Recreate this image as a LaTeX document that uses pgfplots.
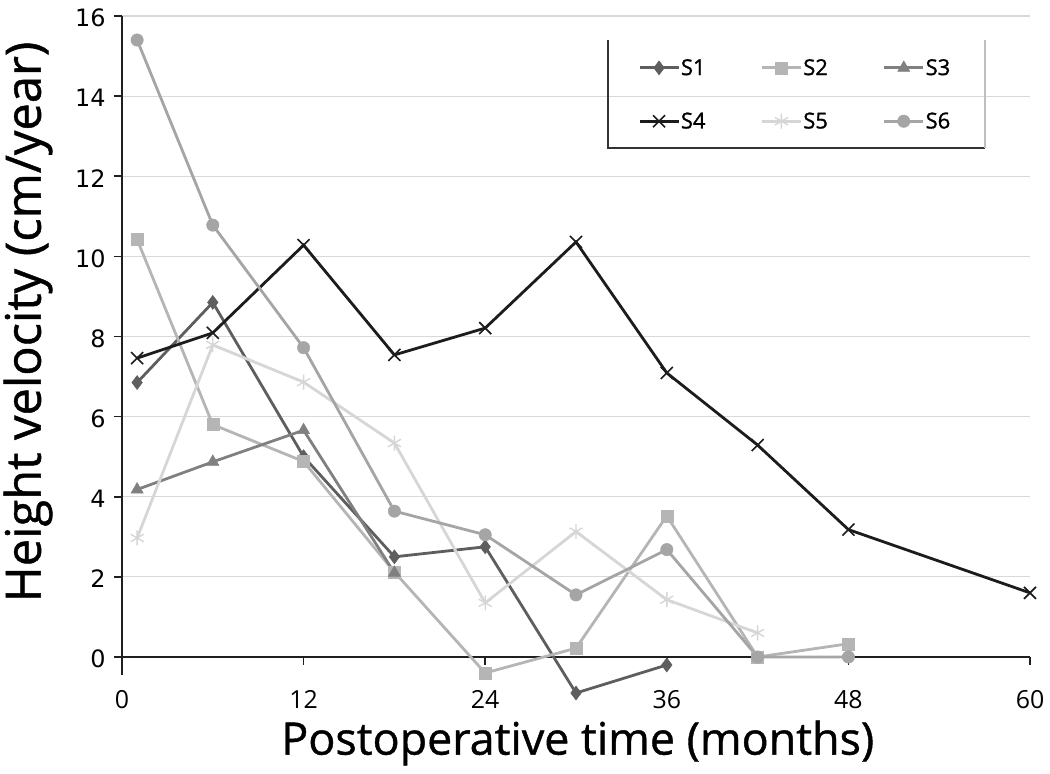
\documentclass[border=0pt]{standalone}
\usepackage{pgfplots}
\pgfplotsset{compat=1.18}
\usepackage{fontspec}
\setmainfont{Open Sans}
\newfontfamily\yfont{DejaVu Sans}
\newfontfamily\labfont[FakeBold=0.9]{Open Sans}
\newfontfamily\legfont[FakeBold=1.2]{Open Sans}
\definecolor{cS1}{HTML}{5E5E5E}
\definecolor{cS2}{HTML}{B5B5B5}
\definecolor{cS3}{HTML}{808080}
\definecolor{cS4}{HTML}{1C1C1C}
\definecolor{cS5}{HTML}{D6D6D6}
\definecolor{cS6}{HTML}{A5A5A5}
\begin{document}
\begin{tikzpicture}
\useasboundingbox (-122bp,-99bp) rectangle (928bp,675bp);
\begin{axis}[
  at={(0,0)}, anchor=south west,
  scale only axis, width=908bp, height=659bp,
  xmin=0, xmax=60, ymin=-0.45, ymax=16,
  clip=false,
  axis x line*=middle, axis y line*=left,
  hide obscured x ticks=false, hide obscured y ticks=false,
  axis line style={line width=1.6bp, color=black!88},
  xtick={0,12,24,36,48,60}, ytick={0,2,...,16},
  tick align=outside, major tick length=8bp,
  tick style={line width=1.6bp, color=black!88},
  ymajorgrids, grid style={line width=1.2bp, color=black!15},
  /pgf/number format/assume math mode=true,
  xticklabel style={font=\fontsize{25}{29}\selectfont, yshift=-22bp},
  yticklabel={{\yfont\fontsize{24}{28}\selectfont\pgfmathprintnumber{\tick}}},
  yticklabel style={xshift=-5bp, yshift=-2bp},
  xlabel={Postoperative time (months)},
  ylabel={Height velocity (cm/year)},
  xlabel style={font=\labfont\fontsize{45}{50}\selectfont, at={(axis description cs:0.502,0)}, anchor=center, yshift=-68bp},
  ylabel style={font=\labfont\fontsize{49}{54}\selectfont, at={(axis description cs:-0.1035,0.5357)}, anchor=center},
  legend columns=3,
  legend style={at={(axis description cs:0.5352,0.9636)}, anchor=north west, draw=none, fill=none,
    inner xsep=30bp, inner ysep=18bp, font=\legfont\fontsize{22}{26}\selectfont,
    row sep=34bp, nodes={inner xsep=1bp, inner ysep=1bp},
    /tikz/every even column/.append style={column sep=54bp}},
  legend cell align=left,
  legend image code/.code={\draw[mark repeat=2,mark phase=2] plot coordinates {(0bp,0bp) (19.5bp,0bp) (39bp,0bp)};},
  every axis plot/.append style={line width=2.8bp},
]
\addplot[color=cS1, mark=diamond*, mark size=7bp, mark options={solid, line width=0.5bp}] coordinates {
 (1,6.85) (6,8.85) (12,5.0) (18,2.5) (24,2.75) (30,-0.9) (36,-0.2)};
\addlegendentry{S1}
\addplot[color=cS2, mark=square*, mark size=6bp, mark options={solid, line width=0.5bp}] coordinates {
 (1,10.42) (6,5.8) (12,4.88) (18,2.12) (24,-0.4) (30,0.22) (36,3.52) (42,0) (48,0.33)};
\addlegendentry{S2}
\addplot[color=cS3, mark=triangle*, mark size=7bp, mark options={solid, line width=0.5bp}] coordinates {
 (1,4.18) (6,4.87) (12,5.66) (18,2.1)};
\addlegendentry{S3}
\addplot[color=cS4, mark=x, mark size=8.5bp, mark options={solid, line width=1.6bp}] coordinates {
 (1,7.46) (6,8.09) (12,10.28) (18,7.54) (24,8.21) (30,10.36) (36,7.09) (42,5.29) (48,3.18) (60,1.6)};
\addlegendentry{S4}
\addplot[color=cS5, mark=asterisk, mark size=7.5bp, mark options={solid, line width=1.4bp}] coordinates {
 (1,2.97) (6,7.79) (12,6.86) (18,5.34) (24,1.35) (30,3.13) (36,1.43) (42,0.6)};
\addlegendentry{S5}
\addplot[color=cS6, mark=*, mark size=6.2bp, mark options={solid, line width=0.5bp}] coordinates {
 (1,15.4) (6,10.78) (12,7.72) (18,3.64) (24,3.05) (30,1.55) (36,2.68) (42,0) (48,0)};
\addlegendentry{S6}
\draw[line width=1.5bp, color=black!80] (axis description cs:0.5352,0.9636) -- (axis description cs:0.5352,0.7997) -- (axis description cs:0.9504,0.7997);
\draw[line width=1.5bp, color=black!25] (axis description cs:0.9504,0.9636) -- (axis description cs:0.9504,0.7997);
\end{axis}
\end{tikzpicture}
\end{document}
